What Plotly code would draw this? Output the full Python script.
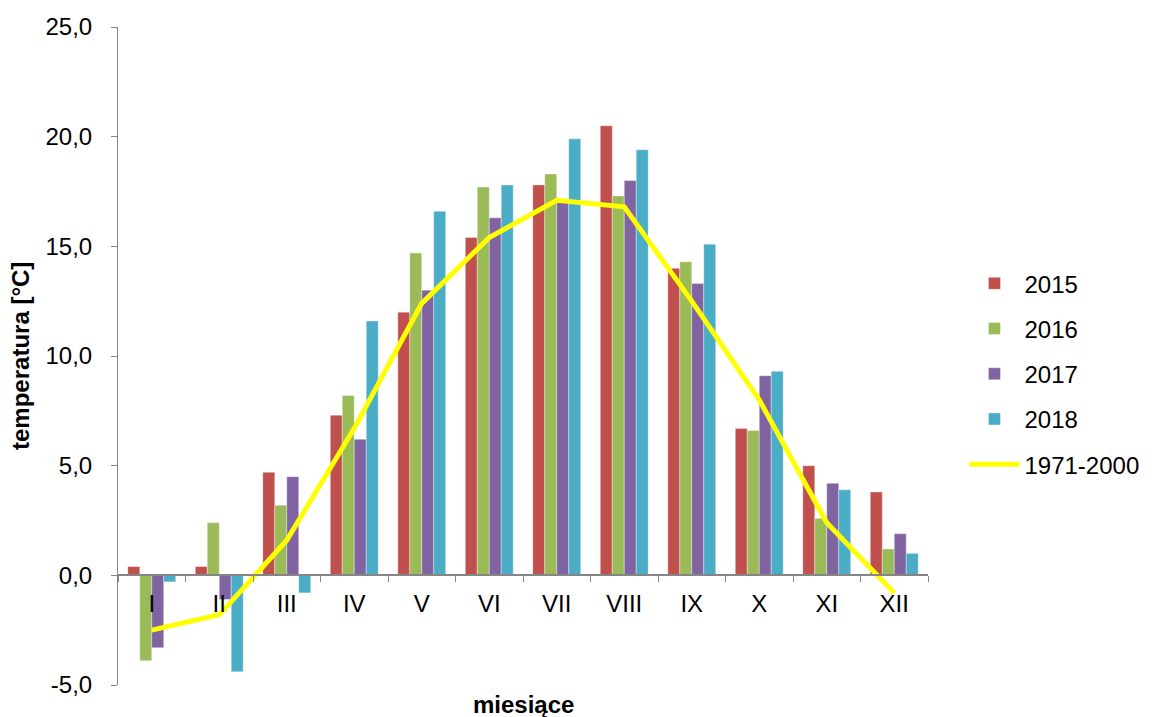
import plotly.graph_objects as go

# Średnie miesięczne temperatury powietrza
months = ["I", "II", "III", "IV", "V", "VI", "VII", "VIII", "IX", "X", "XI", "XII"]

t2015 = [0.4, 0.4, 4.7, 7.3, 12.0, 15.4, 17.8, 20.5, 14.0, 6.7, 5.0, 3.8]
t2016 = [-3.9, 2.4, 3.2, 8.2, 14.7, 17.7, 18.3, 17.3, 14.3, 6.6, 2.6, 1.2]
t2017 = [-3.3, -1.1, 4.5, 6.2, 13.0, 16.3, 17.0, 18.0, 13.3, 9.1, 4.2, 1.9]
t2018 = [-0.3, -4.4, -0.8, 11.6, 16.6, 17.8, 19.9, 19.4, 15.1, 9.3, 3.9, 1.0]
t_norm = [-2.5, -1.8, 1.6, 6.7, 12.4, 15.4, 17.1, 16.8, 12.5, 8.0, 2.4, -0.8]

# podziałka osi Y (etykiety ze zwykłym łącznikiem jako minusem)
y_ticks = [-5, 0, 5, 10, 15, 20, 25]
y_tick_labels = ["-5,0", "0,0", "5,0", "10,0", "15,0", "20,0", "25,0"]

series = [
    ("2015", t2015, "#C0504D"),
    ("2016", t2016, "#9BBB59"),
    ("2017", t2017, "#8064A2"),
    ("2018", t2018, "#4BACC6"),
]

FONT = "Liberation Sans, Arial, sans-serif"
FS = 24
AXIS_GRAY = "#868686"

fig = go.Figure()

for i, (name, vals, color) in enumerate(series):
    fig.add_trace(go.Bar(
        x=months, y=vals, name=name,
        marker=dict(color=color, line=dict(color="rgba(255,255,255,0.6)", width=0.6)),
        legendgroup=f"g{i}",
    ))

fig.add_trace(go.Scatter(
    x=months, y=t_norm, name="1971-2000", mode="lines",
    line=dict(color="#FFFF00", width=5),
    legendgroup="g_norm",
))

fig.update_layout(
    width=1156, height=717,
    margin=dict(l=118, r=226, t=27, b=32),
    plot_bgcolor="white", paper_bgcolor="white",
    separators=", ",
    barmode="group",
    bargap=0.29, bargroupgap=0,
    font=dict(family=FONT, size=FS, color="black"),
    legend=dict(
        x=1.045, y=0.473, xanchor="left", yanchor="middle",
        font=dict(family=FONT, size=FS, color="black"),
        tracegroupgap=11, itemwidth=50,
        bgcolor="rgba(0,0,0,0)",
    ),
    showlegend=True,
)

fig.update_yaxes(
    range=[-5, 25], tickmode="array", tickvals=y_ticks, ticktext=y_tick_labels,
    showgrid=False, zeroline=False,
    showline=True, linecolor=AXIS_GRAY, linewidth=1,
    ticks="outside", ticklen=6, tickcolor=AXIS_GRAY,
    ticklabelstandoff=14,
    tickfont=dict(family=FONT, size=FS, color="black"),
)

# oś X przecina oś Y w punkcie 0,0
fig.update_xaxes(
    type="category",
    anchor="free", position=5 / 30,
    showgrid=False, zeroline=False,
    showline=True, linecolor=AXIS_GRAY, linewidth=1.5,
    ticks="outside", ticklen=6, tickcolor=AXIS_GRAY, tickson="boundaries",
    ticklabelstandoff=7,
    tickfont=dict(family=FONT, size=FS, color="black"),
)

fig.add_annotation(
    text="<b>miesiące</b>", xref="paper", yref="paper",
    x=0.5, y=-0.03, xanchor="center", yanchor="middle",
    showarrow=False, font=dict(family=FONT, size=FS, color="black"),
)
fig.add_annotation(
    text="<b>temperatura [°C]</b>", xref="paper", yref="paper",
    x=-0.121, y=0.5, xanchor="center", yanchor="middle", textangle=-90,
    showarrow=False, font=dict(family=FONT, size=FS, color="black"),
)

fig.write_html("out.html")
